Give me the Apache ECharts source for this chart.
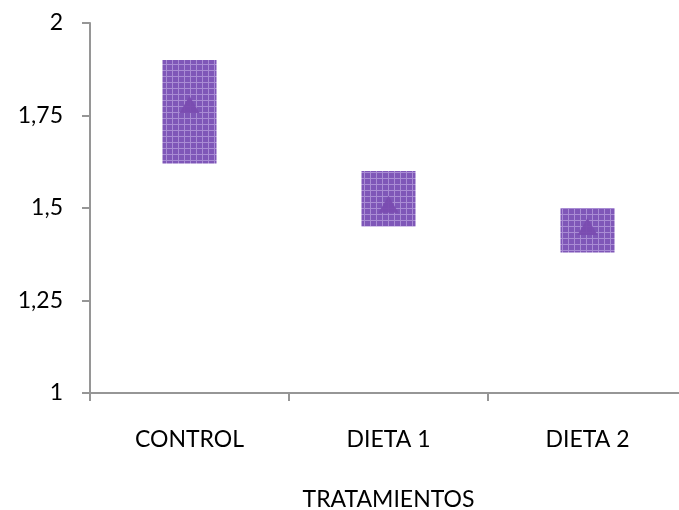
<!DOCTYPE html>
<html><head><meta charset="utf-8">
<script src="https://cdn.jsdelivr.net/npm/echarts@6/dist/echarts.min.js"></script>
<style>html,body{margin:0;padding:0;background:#fff}#c{width:679px;height:510px}</style>
</head><body><div id="c"></div>
<script>
const categories = ['CONTROL', 'DIETA 1', 'DIETA 2'];
const highValues = [1.90, 1.60, 1.50];
const lowValues = [1.62, 1.45, 1.38];
const midValues = [1.78, 1.51, 1.45];
const yTicks = [1, 1.25, 1.5, 1.75, 2];

function makePattern() {
  const c = document.createElement('canvas');
  c.width = 6; c.height = 6;
  const g = c.getContext('2d');
  g.fillStyle = '#7f57b8';
  g.fillRect(0, 0, 6, 6);
  g.fillStyle = '#a98cd4';
  g.fillRect(0, 4, 6, 1);
  g.fillRect(4, 0, 1, 6);
  return c;
}
const pattern = { image: makePattern(), repeat: 'repeat' };

const chart = echarts.init(document.getElementById('c'), null, { renderer: 'canvas' });
const font = 'Lato, "Open Sans", sans-serif';
chart.setOption({
  animation: false,
  grid: { left: 90, right: -8, top: 23, bottom: 117, containLabel: false, outerBoundsMode: 'none' },
  xAxis: {
    type: 'category', data: categories, boundaryGap: true,
    name: 'TRATAMIENTOS', nameLocation: 'middle', nameGap: 95,
    nameTextStyle: { fontFamily: font, fontSize: 23, color: '#000' },
    axisLine: { lineStyle: { color: '#969696', width: 2 } },
    axisTick: { show: true, length: 8, alignWithLabel: false, lineStyle: { color: '#969696', width: 2 } },
    axisLabel: { fontFamily: font, fontSize: 23, color: '#000', margin: 35 },
    splitLine: { show: false }
  },
  yAxis: {
    type: 'value', min: yTicks[0], max: yTicks[yTicks.length - 1], interval: 0.25,
    axisLine: { show: true, lineStyle: { color: '#969696', width: 2 } },
    axisTick: { show: true, length: 8, lineStyle: { color: '#969696', width: 2 } },
    axisLabel: { fontFamily: font, fontSize: 23, color: '#000', margin: 27,
      formatter: v => String(v).replace('.', ',') },
    splitLine: { show: false }
  },
  series: [
    {
      type: 'custom',
      data: categories.map((c, i) => [i, highValues[i], lowValues[i]]),
      renderItem: function (params, api) {
        const top = api.coord([api.value(0), api.value(1)]);
        const bot = api.coord([api.value(0), api.value(2)]);
        const w = 54;
        return {
          type: 'rect',
          shape: { x: top[0] - w / 2, y: top[1], width: w, height: bot[1] - top[1] },
          style: { fill: pattern }
        };
      }
    },
    {
      type: 'scatter',
      data: categories.map((c, i) => [i, midValues[i]]),
      symbol: 'triangle', symbolSize: [20, 17],
      itemStyle: { color: '#7a4cb0', opacity: 0.95 },
      z: 5
    }
  ]
});
</script></body></html>
